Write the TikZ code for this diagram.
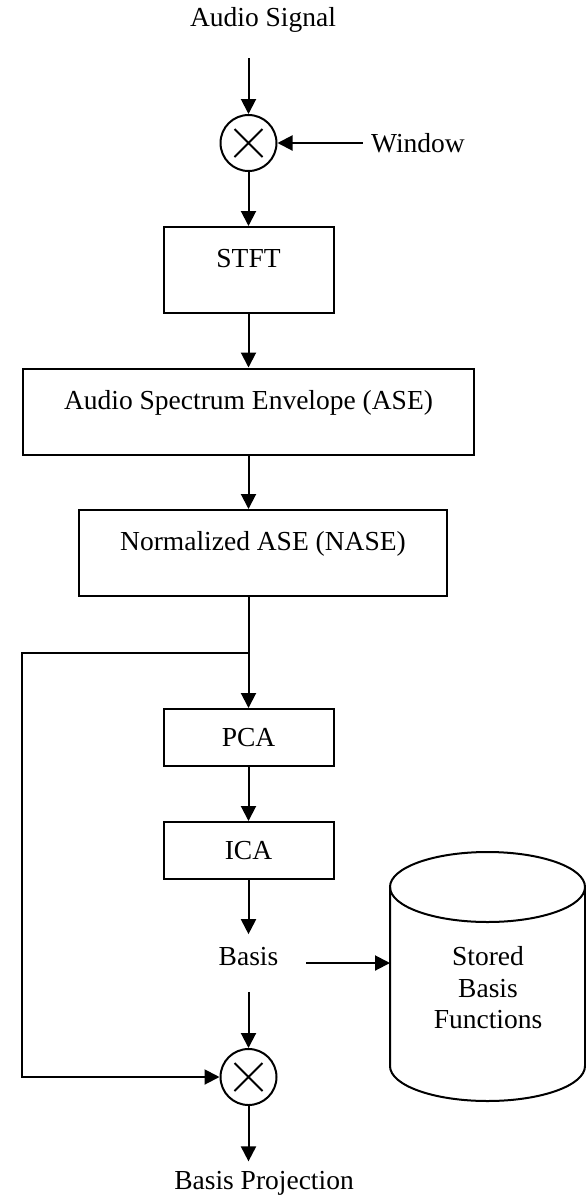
\documentclass[tikz,border=0pt]{standalone}
\usepackage{fontspec}
\setmainfont{Liberation Serif}
\usetikzlibrary{positioning,arrows.meta,calc}

\begin{document}
\begin{tikzpicture}[
    on grid,
    font=\fontsize{27.5pt}{31.5pt}\selectfont,
    line width=2pt,
    block/.style={draw, minimum width=170pt, minimum height=57pt, inner sep=0pt},
    tall/.style={block, minimum height=86pt, text height=19pt, text depth=24pt},
    lbl/.style={inner sep=0pt},
    mult/.style={draw, circle, minimum size=56pt, inner sep=0pt,
        path picture={\draw (path picture bounding box.center) +(-14pt,-14pt) -- +(14pt,14pt) +(-14pt,14pt) -- +(14pt,-14pt);}},
    arr/.style={-{Triangle[length=15pt,width=15pt]}},
]
\useasboundingbox (0,0) rectangle (586pt,-1197pt);

% Windowing
\node[mult] (mix1) at (248.5pt,-143pt) {};
\node[lbl, above right=123pt and 14.5pt of mix1] (audio) {Audio Signal};
\node[lbl, right=169.5pt of mix1] (window) {Window};

% Spectral chain
\node[tall, below=127pt of mix1] (stft) {STFT};
\node[tall, below=141.5pt of stft, minimum width=451pt] (ase) {Audio Spectrum Envelope (ASE)};
\node[tall, below right=141.5pt and 14.5pt of ase, minimum width=368pt] (nase) {Normalized ASE (NASE)};
\node[block, below left=184.5pt and 14.5pt of nase] (pca) {PCA};
\node[block, below=113pt of pca] (ica) {ICA};
\node[lbl, below=106.5pt of ica] (basis) {Basis};
\node[mult, below=120pt of basis] (mix2) {};
\node[lbl, below right=106pt and 15.5pt of mix2] (proj) {Basis Projection};

% Storage
\node[lbl, align=center, below right=31pt and 239.5pt of basis] (store) {Stored\\Basis\\Functions};
\begin{scope}[shift={(store.center)}, x=1pt, y=1pt]
  \draw (-98,101) -- (-98,-78) arc[start angle=180, end angle=360, x radius=97.5, y radius=35] -- (97,101);
  \draw (-0.5,101) ellipse[x radius=97.5, y radius=35];
  \coordinate (dbin) at (-98,25);
\end{scope}

% Arrows
\draw[arr, shorten <=24.6pt] (audio.south -| mix1) -- (mix1);
\draw[arr, shorten <=7.6pt] (window) -- (mix1);
\draw[arr] (mix1) -- (stft);
\draw[arr] (stft) -- (ase);
\draw[arr] (ase.south) -- (ase.south |- nase.north);
\draw[arr] (nase.south -| pca) -- (pca);
\coordinate (split) at ($(nase.south -| pca)!0.5!(pca.north)$);
\draw[arr] (split) -- (split -| ase.west) |- (mix2);
\draw[arr] (pca) -- (ica);
\draw[arr, shorten >=12.6pt] (ica) -- (basis);
\draw[arr, shorten <=24.6pt] (basis) -- (mix2);
\draw[arr, shorten <=27pt] (basis.east |- dbin) -- (dbin);
\draw[arr, shorten >=8.6pt] (mix2) -- (mix2 |- proj.north);
\end{tikzpicture}
\end{document}
